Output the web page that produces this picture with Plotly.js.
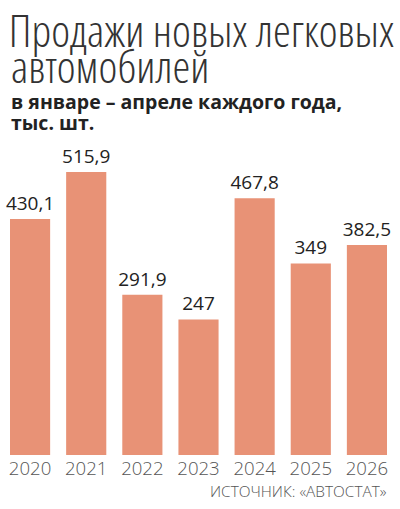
<!DOCTYPE html>
<html>
<head>
<meta charset="utf-8">
<script src="https://cdn.plot.ly/plotly-3.0.1.min.js"></script>
<style>
  html, body { margin: 0; padding: 0; background: #fff; }
  #chart { width: 400px; height: 509px; }
  .gtitle { font-stretch: 75%; }
  g.annotation[data-index="0"] text { font-stretch: 75%; }
  g.annotation[data-index="3"] text { font-stretch: 88%; }
  .xtick text { font-stretch: 90%; }
</style>
</head>
<body>
<div id="chart"></div>
<script>
// Data
var years = ['2020', '2021', '2022', '2023', '2024', '2025', '2026'];
var sales = [430.1, 515.9, 291.9, 247, 467.8, 349, 382.5];
var titleLine1 = 'Продажи новых легковых';
var titleLine2 = 'автомобилей';
var subtitleLine1 = 'в январе – апреле каждого года,';
var subtitleLine2 = 'тыс. шт.';
var sourceText = 'ИСТОЧНИК: «АВТОСТАТ»';

var labels = sales.map(function (v) { return String(v).replace('.', ','); });

var trace = {
  type: 'bar',
  x: years,
  y: sales,
  text: labels,
  textposition: 'outside',
  texttemplate: '%{text}',
  constraintext: 'none',
  cliponaxis: false,
  textfont: { family: 'Open Sans', size: 19, color: '#222' },
  marker: { color: '#E89276', line: { width: 0 } },
  hoverinfo: 'skip'
};

var layout = {
  width: 400,
  height: 509,
  margin: { l: 2, r: 5, t: 140, b: 54, pad: 0 },
  paper_bgcolor: '#fff',
  plot_bgcolor: '#fff',
  showlegend: false,
  bargap: 0.285,
  title: {
    text: titleLine1,
    xref: 'container', x: 0.022, xanchor: 'left',
    yref: 'container', y: 0.9695, yanchor: 'top',
    font: { family: 'Open Sans', size: 45, weight: 300, color: '#333' }
  },
  xaxis: {
    type: 'category',
    showgrid: false, zeroline: false, showline: false, ticks: '',
    tickfont: { family: 'Open Sans', size: 18.6, weight: 300, color: '#555' },
    fixedrange: true
  },
  yaxis: {
    range: [0, 574],
    visible: false, showgrid: false, zeroline: false, fixedrange: true
  },
  annotations: [
    { text: titleLine2, xref: 'paper', yref: 'paper', x: 0.018, y: 1.133,
      xanchor: 'left', yanchor: 'bottom', align: 'left', showarrow: false,
      font: { family: 'Open Sans', size: 45, weight: 300, color: '#333' } },
    { text: subtitleLine1, xref: 'paper', yref: 'paper', x: 0.0178, y: 1.0717,
      xanchor: 'left', yanchor: 'bottom', align: 'left', showarrow: false,
      font: { family: 'Open Sans', size: 19.5, weight: 700, color: '#222' } },
    { text: subtitleLine2, xref: 'paper', yref: 'paper', x: 0.0178, y: 1.0073,
      xanchor: 'left', yanchor: 'bottom', align: 'left', showarrow: false,
      font: { family: 'Open Sans', size: 19.5, weight: 700, color: '#222' } },
    { text: sourceText, xref: 'paper', yref: 'paper', x: 0.985, y: -0.154,
      xanchor: 'right', yanchor: 'bottom', align: 'right', showarrow: false,
      font: { family: 'Open Sans', size: 15.4, weight: 300, color: '#555' } }
  ]
};

Plotly.newPlot('chart', [trace], layout, { displayModeBar: false, staticPlot: true });
</script>
</body>
</html>
